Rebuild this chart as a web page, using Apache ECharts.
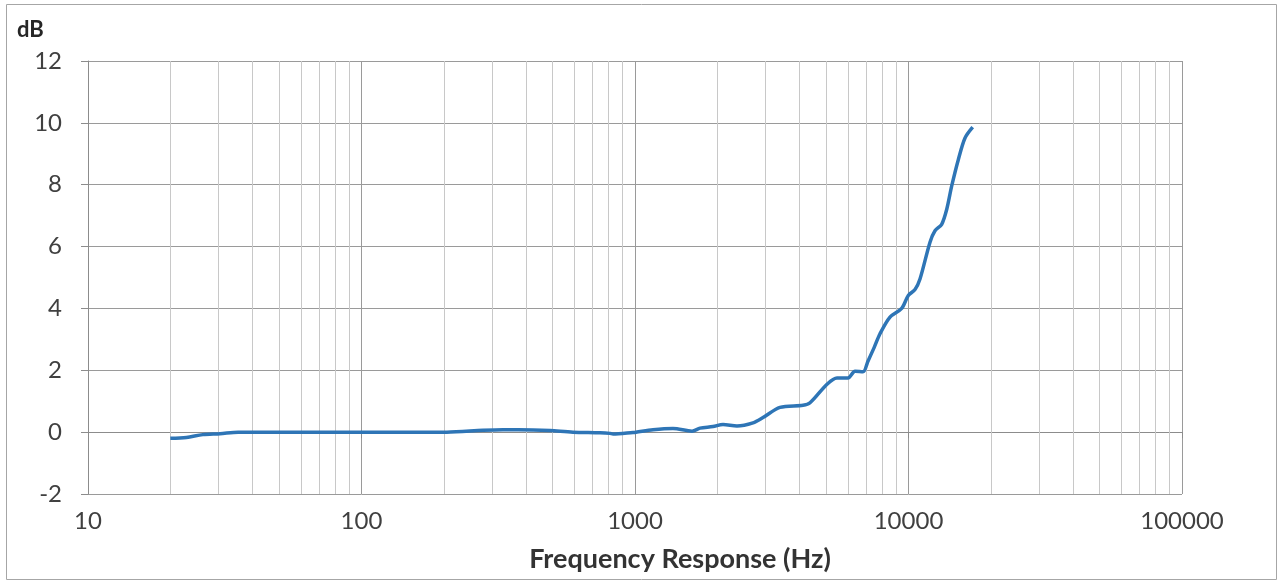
<!DOCTYPE html>
<html><head><meta charset="utf-8">
<script src="https://cdn.jsdelivr.net/npm/echarts@6/dist/echarts.min.js"></script>
<style>html,body{margin:0;padding:0;background:#fff}#c{width:1283px;height:585px}</style>
</head><body><div id="c"></div>
<script>
const freqs = [20, 22.9, 26.3, 30.4, 35.4, 100, 205, 278, 329, 424, 489, 593, 745, 810, 831, 983, 1008, 1164, 1377, 1616, 1729, 1928, 2098, 2360, 2700, 2938, 3389, 4115, 4365, 5036, 5477, 6009, 6374, 6817, 7112, 7500, 7866, 8558, 9441, 9984, 10563, 11016, 11985, 12500, 13225, 13793, 14388, 15210, 16093, 17170];
const dB = [-0.2, -0.17, -0.08, -0.05, 0, 0, 0, 0.06, 0.08, 0.07, 0.05, 0, -0.02, -0.04, -0.06, -0.01, 0, 0.08, 0.12, 0.03, 0.13, 0.18, 0.25, 0.2, 0.3, 0.47, 0.8, 0.87, 0.95, 1.55, 1.75, 1.75, 1.97, 1.95, 2.3, 2.75, 3.18, 3.72, 4.0, 4.42, 4.61, 4.95, 6.14, 6.51, 6.72, 7.2, 7.96, 8.81, 9.51, 9.86];
const minorLines = [20,30,40,50,60,70,80,90,200,300,400,500,600,700,800,900,2000,3000,4000,5000,6000,7000,8000,9000,20000,30000,40000,50000,60000,70000,80000,90000];
const yTicks = [-2, 0, 2, 4, 6, 8, 10, 12];
const font = 'Lato, "Noto Sans", sans-serif';
const chart = echarts.init(document.getElementById('c'), null, {renderer: 'canvas'});
chart.setOption({
  animation: false,
  graphic: [{type: 'rect', shape: {x: 6.5, y: 4.5, width: 1270, height: 575}, style: {fill: 'none', stroke: '#a6a6a6', lineWidth: 1}, silent: true, z: -10},
            {type: 'text', left: 17, top: 19, style: {text: 'dB', font: 'bold 22px ' + font, fill: '#262626'}}],
  grid: {left: 88, right: 101, top: 61, bottom: 91},
  xAxis: {
    type: 'log', logBase: 10, min: 10, max: 100000,
    name: 'Frequency Response (Hz)', nameLocation: 'middle', nameGap: 52,
    nameTextStyle: {fontFamily: font, fontSize: 27, fontWeight: 'bold', color: '#333', padding: [0, 0, 0, 90]},
    axisLine: {show: true, lineStyle: {color: '#8c8c8c', width: 1}},
    axisTick: {show: true, length: 6, lineStyle: {color: '#8c8c8c'}},
    axisLabel: {fontFamily: font, fontSize: 24, color: '#404040', margin: 15,
      formatter: v => String(Math.round(v))},
    splitLine: {show: true, lineStyle: {color: '#9a9a9a', width: 1}},
    minorTick: {show: false}, minorSplitLine: {show: false}
  },
  yAxis: {
    type: 'value', min: -2, max: 12, interval: 2,
    axisLine: {show: true, lineStyle: {color: '#8c8c8c'}},
    axisTick: {show: true, length: 7, lineStyle: {color: '#8c8c8c'}},
    axisLabel: {fontFamily: font, fontSize: 24, color: '#404040', margin: 26,
      formatter: v => yTicks.includes(v) ? String(v) : ''},
    splitLine: {show: true, lineStyle: {color: '#9a9a9a', width: 1}}
  },
  series: [{
    type: 'line', smooth: 0.3, showSymbol: false,
    data: freqs.map((f, i) => [f, dB[i]]),
    lineStyle: {color: '#2e75b6', width: 3.5},
    itemStyle: {color: '#2e75b6'},
    z: 5,
    markLine: {
      silent: true, symbol: 'none', animation: false,
      label: {show: false},
      lineStyle: {color: '#c8c8c8', type: 'solid', width: 1},
      data: minorLines.map(v => ({xAxis: v})),
      z: 1
    }
  }]
});
</script></body></html>
